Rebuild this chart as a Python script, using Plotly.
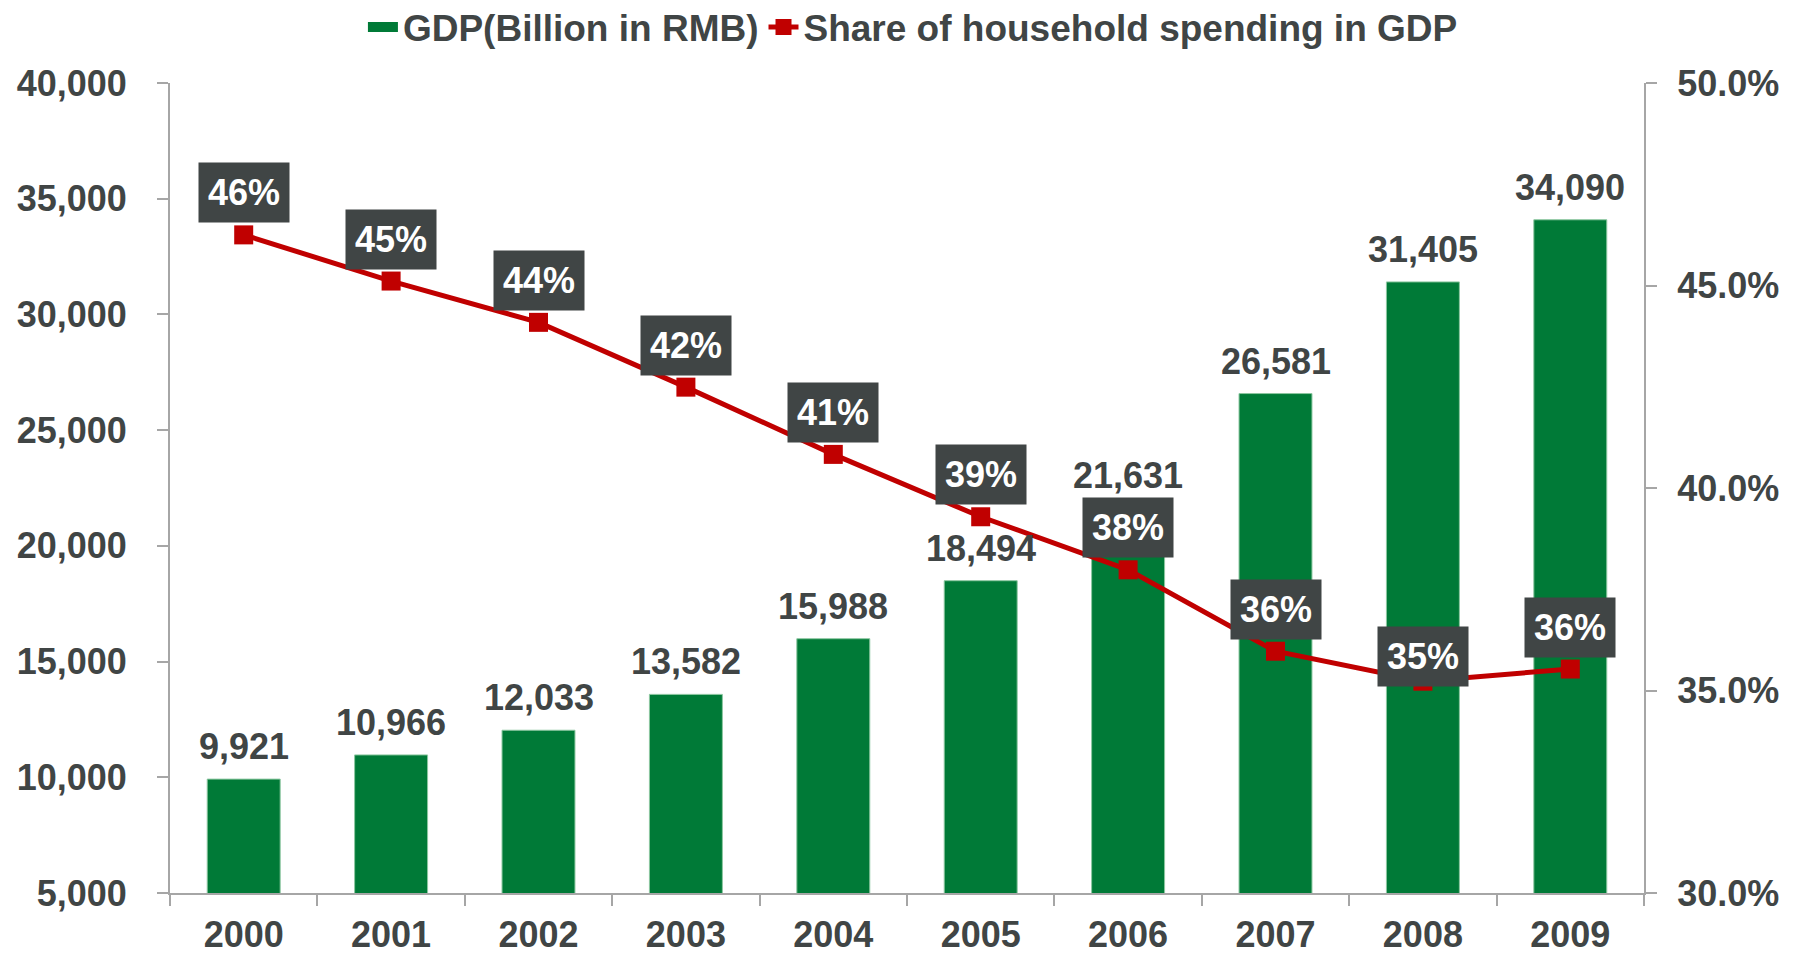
import plotly.graph_objects as go

# data
years = ['2000', '2001', '2002', '2003', '2004', '2005', '2006', '2007', '2008', '2009']
gdp = [9921, 10966, 12033, 13582, 15988, 18494, 21631, 26581, 31405, 34090]
share = [46.25, 45.11, 44.09, 42.49, 40.83, 39.29, 37.98, 35.97, 35.23, 35.53]

GREEN = '#007A37'
RED = '#C00000'
TXT = '#404545'
AXIS = '#A6A6A6'
FONT = 'Liberation Sans, Arial, sans-serif'

fig = go.Figure()

fig.add_trace(go.Bar(
    x=years, y=gdp,
    name='GDP(Billion in RMB)',
    showlegend=False,
    marker=dict(color=GREEN, line=dict(color='#8cc7a0', width=1)),
))

# legend-only entry so the bar key is drawn as a wide block like the original
fig.add_trace(go.Scatter(
    x=[None], y=[None],
    name='GDP(Billion in RMB)',
    mode='lines',
    line=dict(color=GREEN, width=17),
))

fig.add_trace(go.Scatter(
    x=years, y=share,
    name='Share of household spending in GDP',
    yaxis='y2',
    mode='lines+markers',
    line=dict(color=RED, width=5),
    marker=dict(symbol='square', size=19, color=RED),
))

annotations = []
# value labels above bars (x given as category index)
for i, v in enumerate(gdp):
    annotations.append(dict(
        x=i, y=v, xref='x', yref='y',
        text=f'{v:,}', showarrow=False,
        yanchor='bottom', yshift=10,
        font=dict(family=FONT, size=36, color=TXT, weight='bold'),
    ))

# boxed percentage labels on the line (2008 label sits lower)
for i, (yr, v) in enumerate(zip(years, share)):
    shift = 25 if yr == '2008' else 42
    annotations.append(dict(
        x=i, y=v, xref='x', yref='y2',
        text=f'{round(v)}%', showarrow=False,
        yanchor='middle', yshift=shift,
        bgcolor='#404545', borderpad=9,
        font=dict(family=FONT, size=36, color='white', weight='bold'),
    ))

# the page body adds an 8px offset, so the figure is a little smaller than the window
fig.update_layout(
    width=1793, height=946,
    margin=dict(l=162, r=157, t=75, b=61, autoexpand=False),
    plot_bgcolor='white',
    paper_bgcolor='white',
    bargap=0.505,
    font=dict(family=FONT, size=36, color=TXT, weight='bold'),
    showlegend=True,
    legend=dict(
        orientation='h', xref='container', x=0.5047, xanchor='center',
        y=1.107, yanchor='top',
        font=dict(family=FONT, size=37, color=TXT, weight='bold'),
        tracegroupgap=0, bgcolor='rgba(0,0,0,0)',
    ),
    annotations=annotations,
)

fig.update_xaxes(
    type='category', range=[-0.5, len(years) - 0.5], autorange=False,
    showline=True, linecolor=AXIS, linewidth=2,
    ticks='outside', tickson='boundaries', ticklen=11, tickcolor=AXIS, tickwidth=2,
    ticklabelstandoff=9, tickangle=0, automargin=False,
    showgrid=False,
)

fig.update_layout(
    yaxis=dict(
        range=[5000, 40000], dtick=5000, tickformat=',d',
        showline=True, linecolor=AXIS, linewidth=2,
        ticks='outside', ticklen=11, tickcolor=AXIS, tickwidth=2,
        ticklabelstandoff=23, automargin=False,
        showgrid=False, zeroline=False,
    ),
    yaxis2=dict(
        overlaying='y', side='right',
        range=[30, 50], dtick=5, tickformat='.1f', ticksuffix='%',
        showline=True, linecolor=AXIS, linewidth=2,
        ticks='outside', ticklen=11, tickcolor=AXIS, tickwidth=2,
        ticklabelstandoff=13, automargin=False,
        showgrid=False, zeroline=False,
    ),
)

fig.write_html('out.html')
